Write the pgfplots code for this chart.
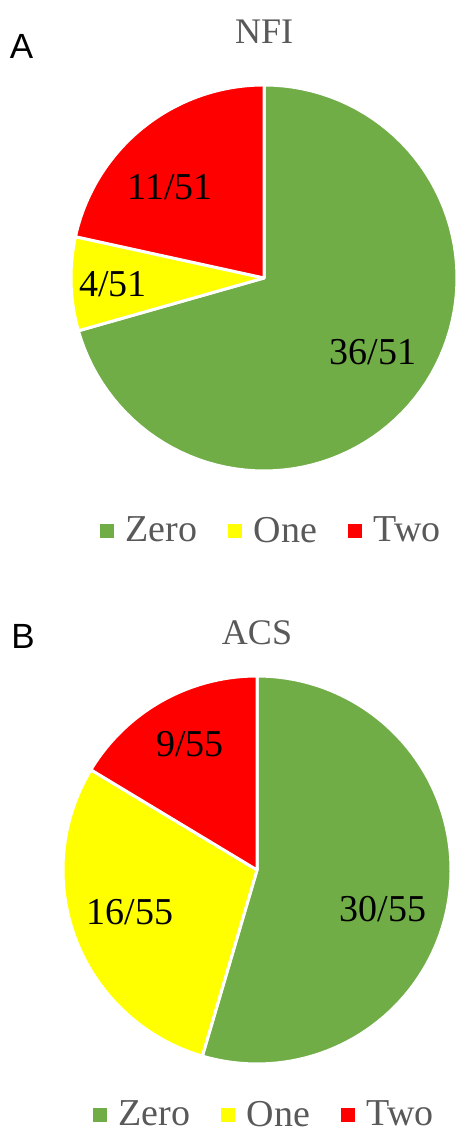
\documentclass[border=0pt]{standalone}
\usepackage{pgfplots}
\pgfplotsset{compat=1.18}
\usepackage{fontspec}
\setmainfont{Liberation Serif}
\newfontfamily\arialfont{Liberation Sans}
\definecolor{cgreen}{HTML}{70AD47}
\definecolor{cyellow}{HTML}{FFFF00}
\definecolor{cred}{HTML}{FF0000}
\definecolor{cgray}{HTML}{595959}

% data (counts)
\def\NFIzero{36}\def\NFIone{4}\def\NFItwo{11}
\def\ACSzero{30}\def\ACSone{16}\def\ACStwo{9}

\pgfplotsset{
  pieaxis/.style={
    scale only axis, width=229pt, height=564.5pt,
    xmin=0, xmax=458, ymin=-1129, ymax=0,
    hide axis, clip=false,
    legend columns=3,
    legend image code/.code={\fill[##1,draw=none] (0pt,-3.4pt) rectangle (6.8pt,3.4pt);},
    legend style={draw=none, fill=none, inner sep=0pt, outer sep=0pt,
      font=\fontsize{19}{22}\selectfont, text=cgray,
      nodes={inner sep=0pt},
      /tikz/every odd column/.append style={column sep=6pt},
      /tikz/every even column/.append style={column sep=15.5pt},
      anchor=west},
  },
  slice/.style={draw=white, line width=1.5pt, line join=round, samples=90, variable=\t},
}

\begin{document}
\begin{tikzpicture}
\pgfmathsetmacro\Atot{\NFIzero+\NFIone+\NFItwo}
\pgfmathsetmacro\Aa{90-360*\NFIzero/\Atot}
\pgfmathsetmacro\Ab{\Aa-360*\NFIone/\Atot}
\pgfmathsetmacro\Ac{\Ab-360*\NFItwo/\Atot}
\pgfmathsetmacro\Btot{\ACSzero+\ACSone+\ACStwo}
\pgfmathsetmacro\Ba{90-360*\ACSzero/\Btot}
\pgfmathsetmacro\Bb{\Ba-360*\ACSone/\Btot}
\pgfmathsetmacro\Bc{\Bb-360*\ACStwo/\Btot}

% ---------- A: NFI ----------
\begin{axis}[pieaxis, legend style={at={(0.21834,0.52967)}}]
\addplot[slice, fill=cgreen, domain=\Aa:90] ({264+193*cos(\t)},{-278+193*sin(\t)}) -- (264,-278) -- cycle;
\addlegendentry{Zero}
\addplot[slice, fill=cyellow, domain=\Ab:\Aa] ({264+193*cos(\t)},{-278+193*sin(\t)}) -- (264,-278) -- cycle;
\addlegendentry{One}
\addplot[slice, fill=cred, domain=\Ac:\Ab] ({264+193*cos(\t)},{-278+193*sin(\t)}) -- (264,-278) -- cycle;
\addlegendentry{Two}
\node[font=\fontsize{19}{22}\selectfont, anchor=base] at (170,-200) {11/51};
\node[font=\fontsize{19}{22}\selectfont, anchor=base] at (113,-297) {4/51};
\node[font=\fontsize{19}{22}\selectfont, anchor=base] at (373,-365) {36/51};
\node[font=\fontsize{18}{21}\selectfont, text=cgray, anchor=base] at (264,-43.3) {NFI};
\node[font=\arialfont\fontsize{17.5}{20}\selectfont, anchor=base] at (21.5,-58.3) {A};
\end{axis}

% ---------- B: ACS ----------
\begin{axis}[pieaxis, legend style={at={(0.20306,0.0124)}}]
\addplot[slice, fill=cgreen, domain=\Ba:90] ({257+194*cos(\t)},{-870+194*sin(\t)}) -- (257,-870) -- cycle;
\addlegendentry{Zero}
\addplot[slice, fill=cyellow, domain=\Bb:\Ba] ({257+194*cos(\t)},{-870+194*sin(\t)}) -- (257,-870) -- cycle;
\addlegendentry{One}
\addplot[slice, fill=cred, domain=\Bc:\Bb] ({257+194*cos(\t)},{-870+194*sin(\t)}) -- (257,-870) -- cycle;
\addlegendentry{Two}
\node[font=\fontsize{19}{22}\selectfont, anchor=base] at (190,-757) {9/55};
\node[font=\fontsize{19}{22}\selectfont, anchor=base] at (130,-925) {16/55};
\node[font=\fontsize{19}{22}\selectfont, anchor=base] at (383,-922) {30/55};
\node[font=\fontsize{18}{21}\selectfont, text=cgray, anchor=base] at (257,-645) {ACS};
\node[font=\arialfont\fontsize{17.5}{20}\selectfont, anchor=base] at (23,-648.3) {B};
\end{axis}
\pgfresetboundingbox
\useasboundingbox (0,0) rectangle (229pt,564.5pt);
\end{tikzpicture}
\end{document}
